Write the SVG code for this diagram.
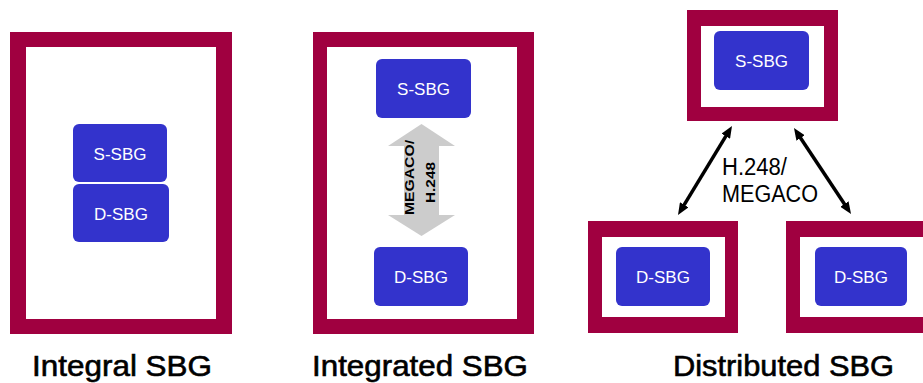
<svg xmlns="http://www.w3.org/2000/svg" width="923" height="383" viewBox="0 0 923 383">
  <style>
    .frame { fill: #A00040; fill-rule: evenodd; }
    .sbg { fill: #3333CC; }
    .sbg-label { fill: #FFFFFF; font-family: "Liberation Sans", Arial, sans-serif; font-size: 17px; text-anchor: middle; }
    .caption { fill: #000000; stroke: #000000; stroke-width: 0.6; font-family: "Liberation Sans", Arial, sans-serif; font-size: 29px; }
    .proto { fill: #000000; font-family: "Liberation Sans", Arial, sans-serif; font-size: 23px; }
    .proto-v { fill: #000000; font-family: "Liberation Sans", Arial, sans-serif; font-size: 12px; font-weight: bold; text-anchor: middle; }
    .link { stroke: #000000; stroke-width: 3.5; fill: none; }
  </style>
  <defs>
    <marker id="head" viewBox="0 0 12 10" refX="4" refY="5" markerWidth="12" markerHeight="10" markerUnits="userSpaceOnUse" orient="auto-start-reverse">
      <path d="M0,0 L12,5 L0,10 Z" fill="#000000"/>
    </marker>
  </defs>

  <rect width="923" height="383" fill="#FFFFFF"/>

  <!-- Integral SBG: both functions in one frame -->
  <g id="integral">
    <path class="frame" d="M10 32H232V334H10Z M26 47V319H216V47Z"/>
    <g id="integral-s-sbg">
      <rect class="sbg" x="73" y="124" width="94" height="58" rx="6"/>
      <text class="sbg-label" x="120" y="160">S-SBG</text>
    </g>
    <g id="integral-d-sbg">
      <rect class="sbg" x="73" y="184" width="96" height="58" rx="6"/>
      <text class="sbg-label" x="121" y="220">D-SBG</text>
    </g>
    <text class="caption" x="32" y="376" textLength="180" lengthAdjust="spacingAndGlyphs">Integral SBG</text>
  </g>

  <!-- Integrated SBG: separate functions in one frame -->
  <g id="integrated">
    <path class="frame" d="M313 32H534V334H313Z M327 47V319H517V47Z"/>
    <g id="integrated-s-sbg">
      <rect class="sbg" x="376" y="59" width="95" height="59" rx="6"/>
      <text class="sbg-label" x="423.5" y="95">S-SBG</text>
    </g>
    <g id="integrated-d-sbg">
      <rect class="sbg" x="374" y="247" width="94" height="59" rx="6"/>
      <text class="sbg-label" x="421" y="283">D-SBG</text>
    </g>
    <text class="caption" x="312" y="376" textLength="216" lengthAdjust="spacingAndGlyphs">Integrated SBG</text>
  </g>

  <!-- Distributed SBG: one S-SBG, two D-SBGs -->
  <g id="distributed-s">
    <path class="frame" d="M687 10H838V121H687Z M701 26V107H824V26Z"/>
    <rect class="sbg" x="714" y="31" width="95" height="59" rx="6"/>
    <text class="sbg-label" x="761.5" y="67">S-SBG</text>
  </g>
  <g id="distributed-d1">
    <path class="frame" d="M588 221H738V333H588Z M602 237V317H725V237Z"/>
    <rect class="sbg" x="616" y="247" width="94" height="59" rx="6"/>
    <text class="sbg-label" x="663" y="283">D-SBG</text>
  </g>
  <g id="distributed-d2">
    <path class="frame" d="M786 221H923V237H800V317H923V333H786Z"/>
    <rect class="sbg" x="815" y="247" width="92" height="59" rx="6"/>
    <text class="sbg-label" x="861" y="283">D-SBG</text>
  </g>
  <text class="caption" x="673" y="376" textLength="221" lengthAdjust="spacingAndGlyphs">Distributed SBG</text>

  <!-- Connectors -->
  <g id="connectors">
    <g id="integrated-control">
      <polygon fill="#CCCCCC" points="421.5,124 455,146 439,146 439,215 455,215 421.5,236 388,215 404,215 404,146 388,146"/>
      <text class="proto-v" transform="translate(414,177.5) rotate(-90)" textLength="75" lengthAdjust="spacingAndGlyphs">MEGACO/</text>
      <text class="proto-v" transform="translate(435,182.5) rotate(-90)" textLength="41" lengthAdjust="spacingAndGlyphs">H.248</text>
    </g>
    <line class="link" x1="727.85" y1="132.84" x2="682.15" y2="208.16" marker-start="url(#head)" marker-end="url(#head)"/>
    <line class="link" x1="798.4" y1="134.7" x2="846.6" y2="207.3" marker-start="url(#head)" marker-end="url(#head)"/>
    <text class="proto" x="722" y="175" textLength="65" lengthAdjust="spacingAndGlyphs">H.248/</text>
    <text class="proto" x="722" y="202" textLength="96" lengthAdjust="spacingAndGlyphs">MEGACO</text>
  </g>
</svg>
